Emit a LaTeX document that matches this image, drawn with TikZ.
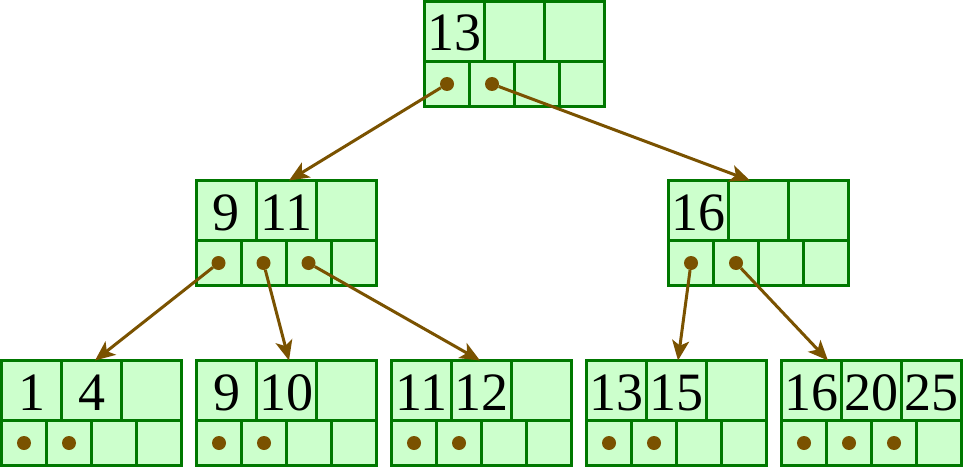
\documentclass[tikz,border=0pt]{standalone}
\usepackage{fontspec}
\setmainfont{Liberation Serif}
\usetikzlibrary{arrows.meta}

\definecolor{cellfill}{RGB}{204,255,204}
\definecolor{cellgreen}{RGB}{0,120,0}
\definecolor{ptrbrown}{RGB}{122,82,0}

\tikzset{
  btbox/.style={rectangle,draw=cellgreen,fill=cellfill,line width=3pt,minimum width=180pt,minimum height=105pt,inner sep=0pt,outer sep=0pt},
  cellline/.style={draw=cellgreen,line width=3pt},
  keytext/.style={font=\fontsize{54}{54}\selectfont,anchor=base,inner sep=0pt},
  ptrdot/.style={circle,fill=ptrbrown,minimum size=14pt,inner sep=0pt},
  ptr/.style={draw=ptrbrown,line width=3pt,-{Stealth[length=20pt,width=17pt,inset=5pt]}},
}

% #1 name, #2 #3 top left corner, #4 #5 #6 keys, #7 pointer cells
\newcommand{\btnode}[7]{%
  \node[btbox] (#1) at (#2+90,#3+52.5) {};
  \draw[cellline] (#2,#3+60) -- ++(180,0)
    (#2+60,#3) -- ++(0,60) (#2+120,#3) -- ++(0,60)
    (#2+45,#3+60) -- ++(0,45) (#2+90,#3+60) -- ++(0,45) (#2+135,#3+60) -- ++(0,45);
  \node[keytext] (#1-k1) at (#2+30,#3+49.5) {#4};
  \node[keytext] (#1-k2) at (#2+90,#3+49.5) {#5};
  \node[keytext] (#1-k3) at (#2+150,#3+49.5) {#6};
  \foreach \i in {#7}
    \node[ptrdot] (#1-p\i) at (#2+45*\i-22.5,#3+82.5) {};
}

\begin{document}
\begin{tikzpicture}[x=1pt,y=-1pt]
    \useasboundingbox (0,0) rectangle (963,468);
    % root and inner nodes
    \btnode{root}{424.5}{1.5}{13}{}{}{1,2}
    \btnode{left}{196}{180.5}{9}{11}{}{1,2,3}
    \btnode{right}{668.5}{180.5}{16}{}{}{1,2}
    % leaves
    \btnode{leafa}{1.5}{360.5}{1}{4}{}{1,2}
    \btnode{leafb}{196.5}{360.5}{9}{10}{}{1,2}
    \btnode{leafc}{391.5}{360.5}{11}{12}{}{1,2}
    \btnode{leafd}{586.5}{360.5}{13}{15}{}{1,2}
    \btnode{leafe}{781.5}{360.5}{16}{20}{25}{1,2,3}
    % pointers
    \draw[ptr] (root-p1) -- ([xshift=3pt]left.north);
    \draw[ptr] (root-p2) -- ([xshift=-8.5pt]right.north);
    \draw[ptr] (left-p1) -- ([xshift=3.5pt]leafa.north);
    \draw[ptr] (left-p2) -- ([xshift=2.5pt]leafb.north);
    \draw[ptr] (left-p3) -- ([xshift=-1.5pt]leafc.north);
    \draw[ptr] (right-p1) -- ([xshift=1.5pt]leafd.north);
    \draw[ptr] (right-p2) -- ([xshift=-43.5pt]leafe.north);
\end{tikzpicture}
\end{document}
